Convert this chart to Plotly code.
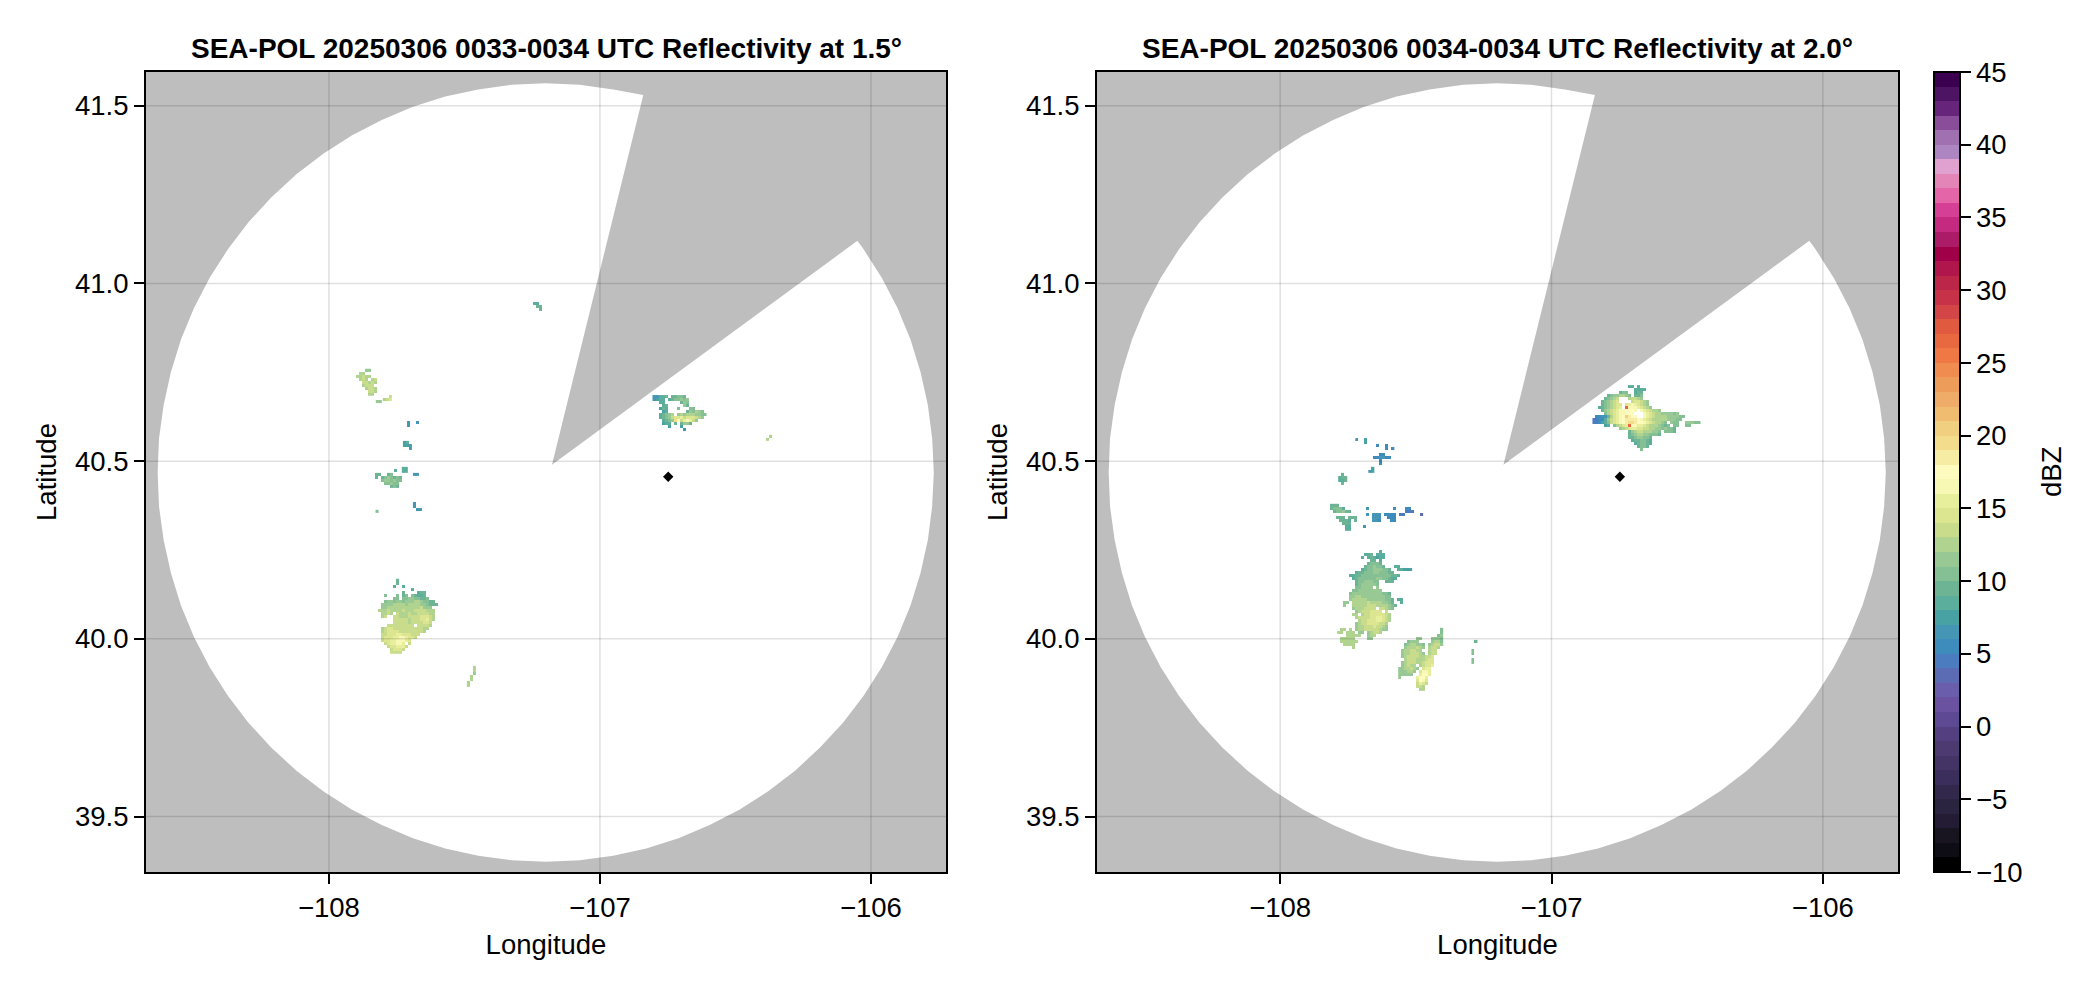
import plotly.graph_objects as go

W, H = 2096, 990
TITLES = ["SEA-POL 20250306 0033-0034 UTC Reflectivity at 1.5°",
          "SEA-POL 20250306 0034-0034 UTC Reflectivity at 2.0°"]
X_TICKS = [-108, -107, -106]
Y_TICKS = [39.5, 40.0, 40.5, 41.0, 41.5]
CBAR_TICKS = [-10, -5, 0, 5, 10, 15, 20, 25, 30, 35, 40, 45]
SITE_LON = [-106.748]
SITE_LAT = [40.456]

COVER_LON = [-106.05, -106.027, -105.960, -105.902, -105.854, -105.817, -105.790, -105.774,
             -105.768, -105.774, -105.790, -105.817, -105.854, -105.902, -105.960, -106.027,
             -106.103, -106.188, -106.280, -106.379, -106.484, -106.595, -106.710, -106.829,
             -106.951, -107.075, -107.200, -107.325, -107.449, -107.571, -107.690, -107.805,
             -107.916, -108.021, -108.120, -108.213, -108.297, -108.373, -108.440, -108.498,
             -108.546, -108.583, -108.610, -108.627, -108.632, -108.627, -108.610, -108.583,
             -108.546, -108.498, -108.440, -108.373, -108.297, -108.213, -108.120, -108.021,
             -107.916, -107.805, -107.690, -107.571, -107.449, -107.325, -107.200, -107.075,
             -106.951, -106.84, -107.177]
COVER_LAT = [41.12, 41.096, 41.016, 40.931, 40.842, 40.751, 40.658, 40.564,
             40.468, 40.373, 40.278, 40.185, 40.094, 40.005, 39.920, 39.840,
             39.764, 39.694, 39.629, 39.571, 39.520, 39.476, 39.439, 39.410,
             39.390, 39.377, 39.373, 39.377, 39.390, 39.410, 39.439, 39.476,
             39.520, 39.571, 39.629, 39.694, 39.764, 39.840, 39.920, 40.005,
             40.094, 40.185, 40.278, 40.373, 40.468, 40.564, 40.658, 40.751,
             40.842, 40.931, 41.016, 41.096, 41.172, 41.242, 41.307, 41.365,
             41.416, 41.460, 41.497, 41.526, 41.546, 41.559, 41.563, 41.559,
             41.546, 41.53, 40.49]

# dBZ colour bands, one per dBZ from -10 up to 45
BANDS = ["#000000", "#0e0c14", "#181420", "#241c34", "#2a2440", "#32284c", "#3c2e5c", "#443466",
         "#4c3a70", "#544080", "#5e4a94", "#6a52a0", "#6a5eac", "#5c6cb4", "#4c7cc0", "#3e8cbc",
         "#4496b4", "#48a2a4", "#5cae9c", "#6cb494", "#84c094", "#98c894", "#b0d490", "#c8dc8c",
         "#dce690", "#e8ef9c", "#f7f8b4", "#fdfcbe", "#f6eca4", "#f3dc8c", "#f0d080", "#f0bc70",
         "#eeac68", "#ee9c5a", "#f08c50", "#ef7845", "#e86840", "#e05a40", "#d44548", "#c83248",
         "#bc2648", "#b0164c", "#a00048", "#ab1b68", "#c42a80", "#d63f96", "#e465a8", "#e485b8",
         "#e0a0d0", "#ad85c0", "#a070b0", "#8a4d9a", "#66247a", "#4e1464", "#3c0050"]

# Echo cell size in degrees
DLON = 0.01107
DLAT = 0.00844

# Echoes: (west edge lon, north edge lat, rows north to south); one base-36 digit = dBZ, '.' = no echo
L_TOP = (-107.247, 40.948, ["88.", ".99", "..9"])
L_NW = (-107.900, 40.760, ["...bb..", ".cc....", "ccdcc..", ".cdc.cd", "..ddcdc", "..cddd.", "...cddc", "....ddc", "....cc."])
L_NW2 = (-107.801, 40.686, ["..d", "cde"])
L_NW3 = (-107.827, 40.672, ["bb"])
L_SP1 = (-107.712, 40.613, ["6..6", "6..."])
L_SP2 = (-107.727, 40.557, ["78.", "777", "..6"])
L_SP3 = (-107.731, 40.484, ["88", "88"])
L_SP4 = (-107.690, 40.467, ["66"])
L_SP5 = (-107.760, 40.478, ["8"])
L_BAND = (-107.830, 40.467, ["99..9a...", "9.9aba9a9", "..abbabaa", "...aabaa.", ".....9a9."])
L_SP6 = (-107.690, 40.385, ["6..", "6..", ".66"])
L_SP7 = (-107.828, 40.363, ["a"])
L_BIG = (-107.819, 40.169, [
    "......9",
    "......9",
    ".....8..8",
    "...........8",
    "........9....899",
    "..a...a.9a.a9889",
    ".....aa.aabbaa99a",
    "..abbabbabbbccbaa99",
    ".bbbbccccbccccbba999",
    ".bbcccccccccccdbbb",
    "cccdccccdcccddddccc",
    ".ccdc.dcccdccddddcc",
    ".cd..ddcccddddeeedc",
    ".....dddddcdddeefdc",
    ".....dddddcddddeed",
    "...ddddddddd.ddddc",
    ".cdeeddddddddddcc",
    ".cdeeeeddddddddc",
    ".ddeeeffeeeddd",
    ".deeeffggfeed",
    ".deeffgggfe",
    "..deffggf.d",
    "...deefffd",
    "....deeed",
    "....dddd"])
L_DIAG = (-107.491, 39.924, ["..c", "..c", "..b", ".c.", ".c.", "c..", "c.."])
L_NE = (-106.806, 40.686, [
    "66889.99aa9",
    "6788.89aabab",
    "..88.....9ba",
    "...89.....b9",
    "..798...a...aa",
    "...78......9bacba",
    "..89abc.bcbcccbbaa",
    "..89abdeefdeeedcb",
    "...89abjhdfgfdb",
    "...788.9.9bb9",
    ".....7...7",
    "..........6"])
L_E = (-106.387, 40.574, [".c", "c."])
LEFT_ECHOES = [L_TOP, L_NW, L_NW2, L_NW3, L_SP1, L_SP2, L_SP3, L_SP4, L_SP5, L_BAND, L_SP6, L_SP7,
               L_BIG, L_DIAG, L_NE, L_E]

R_SP = (-107.723, 40.565, [
    "6..7",
    "...7",
    ".......5..5",
    "..........5.5",
    ".",
    "........55",
    "......556655",
    "........5",
    "........5"])
R_SP2 = (-107.675, 40.484, [".7", "67"])
R_SP3 = (-107.786, 40.467, [".9.", "899", "889", ".9."])
R_BAND = (-107.827, 40.380, [
    ".999",
    ".9aaa8.......6........5...55",
    "..9aab99..................444",
    ".............6.666.5555.44.....3",
    "...999.999.....666..555",
    "....9998.9.....665...55",
    ".....999",
    "......88....6",
    "......88"])
R_BIG = (-107.790, 40.250, [
    "..............8",
    ".........889.888",
    "........8.898788",
    "...........99.8",
    "..........9aaa9",
    ".........9aabaa9...88",
    "........89aabbbaa9..88777",
    "......899aaabbaaa99",
    "....8899aaaaaaaaaa998",
    ".....89aaaaaabbaa988",
    "......9aabbbaa..999",
    "......9abbbbba",
    "......aabbbb.b",
    ".....aabbbbbbbb",
    "....abbbbbbbbbbaa9",
    "....bbccbbbbbbbbaa",
    "....bcccccbbbbbbaa9.88",
    "..bb.cccccdccccbba9..8",
    "..b..cccccdddccccba9",
    ".....bcccdddd.ddcba",
    "......bcdddeeee.d",
    ".....cc.cddeeeeedc",
    "......cddddeeffedc",
    ".......cddeeeffedc",
    "......bcddeeeeddc",
    "......bccdddeddcb",
    ".cc.c.bccdddddcbb",
    "cc.ccc.bb.bcddc",
    "...ccccc..bcc",
    ".ccccc....bb",
    ".cccccc",
    "..cccc",
    ".....c"])
R_LOW = (-107.565, 40.031, [
    "..............a",
    "..............a",
    ".............ab",
    "......bb...bbba",
    "...abbb....bcca",
    "..abccbba.bcddb",
    "..bcccdcb.cddc",
    ".bccddcc..cdd",
    ".bccdddcb.cdd",
    ".bcddddccdde",
    "..cdddcccdee",
    ".bcdddccdeee",
    ".bcdcc.cdeef",
    "bbccdcb.eff",
    "bbbccb.eggf",
    "bbbbb..fhhf",
    "b.....fhhf",
    "......ehge",
    "......dfed",
    "......ddc",
    ".......cc"])
R_E = (-107.295, 39.997, [".9", "..", "..", "a.", "a.", "..", "a.", "a."])
R_NE = (-106.849, 40.714, [
    "............88.8",
    "..............8888",
    ".........9aa..899",
    ".....9abbccba.99a",
    "....9abcd...cddcb",
    "...9abcde....deedcb",
    "...9abcdee.efgfedcb",
    "..89abcdef.qgggfedcb",
    "...9bcdefgghhhg.gfedccb",
    "....acdefgghhh...gfedccbbbbab",
    ".55669cefghkihh..gfedccccbbbbaa",
    "44558bdefghiiiihgfedcccccbbbaa",
    "44578adefghijjihhgfedccba.baa..bbbaa",
    "....78.acdefqhgffedcccba9a.aa..aa",
    ".........bcdeffeeddccbbabaa9",
    "............9bcddcccbba.aaa9",
    "............9abccbbaaa9",
    "............99abbaa9",
    ".............899aa98",
    "..............89aa98",
    "...............9aa9",
    "................a"])
RIGHT_ECHOES = [R_SP, R_SP2, R_SP3, R_BAND, R_BIG, R_LOW, R_E, R_NE]

FONT = "Liberation Sans"
TITLE_SIZE = 28
TEXT_SIZE = 27.5
PLOT_TOP, PLOT_BOTTOM = 72, 872
DOMAINS = [(146, 946), (1097, 1898)]
XRANGE = [-108.675, -105.723]
YRANGE = [39.344, 41.595]

def grid(rows):
    width = max(len(r) for r in rows)
    return [[(int(c, 36) + 0.5) if c != "." else None for c in r.ljust(width, ".")] for r in reversed(rows)]

fig = go.Figure()
scale = []
for i, c in enumerate(BANDS):
    scale += [[i / len(BANDS), c], [(i + 1) / len(BANDS), c]]

for col, echoes in enumerate([LEFT_ECHOES, RIGHT_ECHOES]):
    xa, ya = ("x", "y") if col == 0 else ("x2", "y2")
    for lon0, lat0, rows in echoes:
        fig.add_trace(go.Heatmap(z=grid(rows), x0=lon0 + DLON / 2, dx=DLON,
                                 y0=lat0 - DLAT * (len(rows) - 0.5), dy=DLAT,
                                 coloraxis="coloraxis", xaxis=xa, yaxis=ya, hoverongaps=False))
    fig.add_trace(go.Scatter(x=SITE_LON, y=SITE_LAT, mode="markers", xaxis=xa, yaxis=ya, showlegend=False,
                             marker=dict(symbol="diamond", size=8, color="black")))

path = "M " + " L ".join(f"{a} {b}" for a, b in zip(COVER_LON, COVER_LAT)) + " Z"
shapes, annotations = [], []
for col, (x0, x1) in enumerate(DOMAINS):
    xa, ya = ("x", "y") if col == 0 else ("x2", "y2")
    shapes.append(dict(type="path", path=path, xref=xa, yref=ya, fillcolor="white",
                       line=dict(width=0), layer="below"))
    for t in X_TICKS:
        shapes.append(dict(type="line", xref=xa, yref=ya + " domain", x0=t, x1=t, y0=0, y1=1,
                           line=dict(color="rgba(0,0,0,0.12)", width=1.5), layer="above"))
    for t in Y_TICKS:
        shapes.append(dict(type="line", xref=xa + " domain", yref=ya, x0=0, x1=1, y0=t, y1=t,
                           line=dict(color="rgba(0,0,0,0.12)", width=1.5), layer="above"))
    annotations.append(dict(text=f"<b>{TITLES[col]}</b>", xref="paper", yref="paper", showarrow=False,
                            x=(x0 + x1) / 2 / W, y=1 - 49 / H, xanchor="center", yanchor="middle",
                            font=dict(family=FONT, size=TITLE_SIZE, color="black")))

annotations.append(dict(text="dBZ", xref="paper", yref="paper", showarrow=False, textangle=-90,
                        x=2052 / W, y=1 - 472 / H, xanchor="center", yanchor="middle",
                        font=dict(family=FONT, size=TEXT_SIZE, color="black")))

def axis_common():
    return dict(showline=True, linecolor="black", linewidth=2, mirror=True, showgrid=False, zeroline=False,
                ticks="outside", ticklen=10, tickwidth=2, tickcolor="black",
                tickfont=dict(family=FONT, size=TEXT_SIZE, color="black"))

layout = dict(width=W, height=H, margin=dict(l=0, r=0, t=0, b=0), paper_bgcolor="white",
              plot_bgcolor="#bebebe", shapes=shapes, annotations=annotations, showlegend=False,
              coloraxis=dict(cmin=-10, cmax=45, colorscale=scale, colorbar=dict(
                  x=1934 / W, xanchor="left", xpad=0, y=1 - PLOT_TOP / H, yanchor="top", ypad=0,
                  lenmode="pixels", len=PLOT_BOTTOM - PLOT_TOP, thicknessmode="pixels", thickness=26,
                  outlinecolor="black", outlinewidth=2, tickmode="array", tickvals=CBAR_TICKS,
                  ticks="outside", ticklen=10, tickwidth=2, tickcolor="black",
                  tickfont=dict(family=FONT, size=TEXT_SIZE, color="black"))))
for col, (x0, x1) in enumerate(DOMAINS):
    sx = "xaxis" if col == 0 else "xaxis2"
    sy = "yaxis" if col == 0 else "yaxis2"
    layout[sx] = dict(domain=[x0 / W, x1 / W], range=XRANGE, tickmode="array", tickvals=X_TICKS,
                      anchor="y" if col == 0 else "y2",
                      title=dict(text="Longitude", font=dict(family=FONT, size=TEXT_SIZE, color="black"), standoff=13),
                      automargin=False, **axis_common())
    layout[sy] = dict(domain=[1 - PLOT_BOTTOM / H, 1 - PLOT_TOP / H], range=YRANGE, tickmode="array",
                      tickvals=Y_TICKS, tickformat=".1f", anchor="x" if col == 0 else "x2",
                      title=dict(text="Latitude", font=dict(family=FONT, size=TEXT_SIZE, color="black"), standoff=10),
                      automargin=False, **axis_common())
fig.update_layout(**layout)
fig.write_html("out.html", config={"displayModeBar": False}, post_script="document.body.style.margin='0';")
